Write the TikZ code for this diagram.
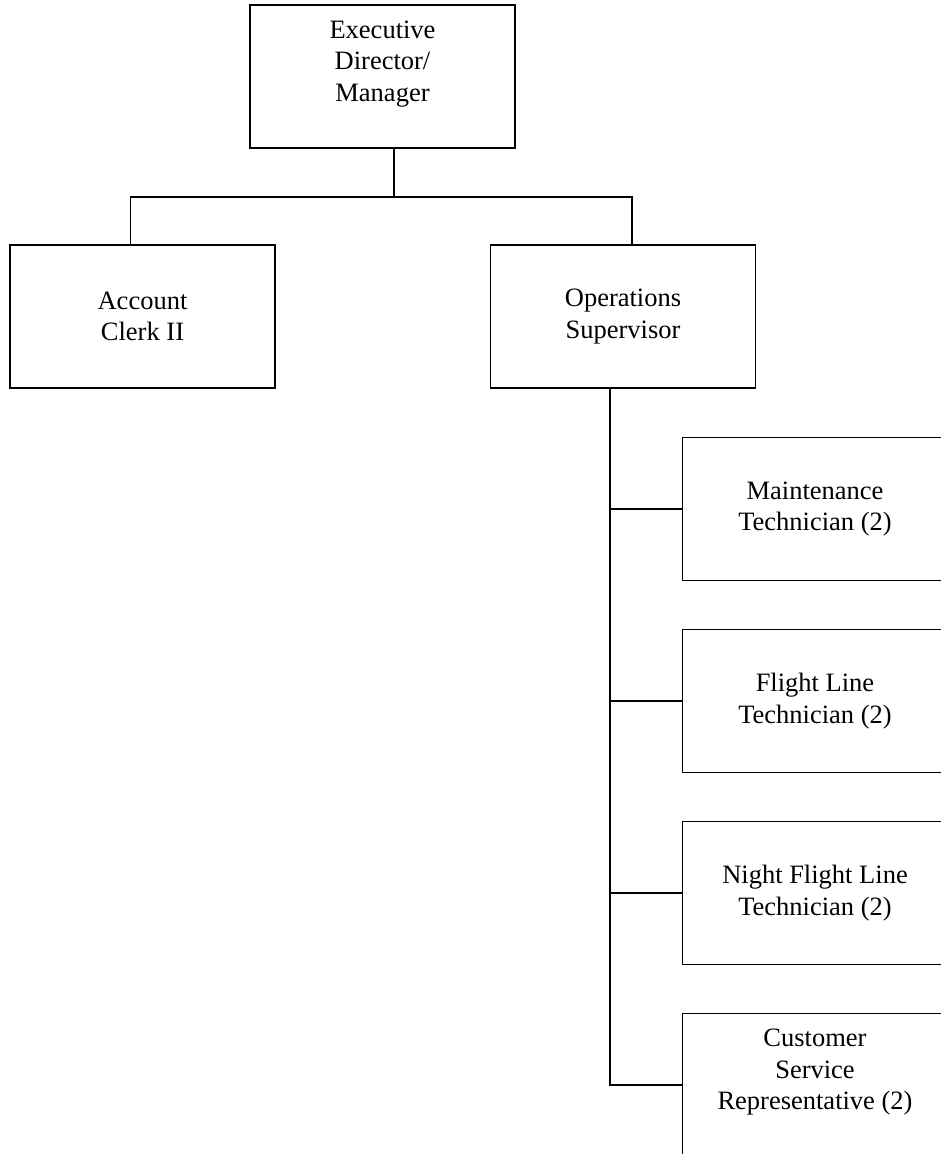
\documentclass[tikz,border=0pt]{standalone}
\usepackage{fontspec}
\setmainfont{Liberation Serif}
\usetikzlibrary{positioning}

\tikzset{
    post/.style={draw, rectangle, line width=1.8pt, minimum width=265pt,
        minimum height=143pt, align=center, font=\fontsize{26.5}{31.5}\selectfont},
    link/.style={line width=1.8pt},
}

\begin{document}
\begin{tikzpicture}[x=1pt, y=-1pt, line join=miter]
    \useasboundingbox (0,0) rectangle (941,1154);
    \clip (0,0) rectangle (941,1154);

    % top and second row
    \node[post] (exec) at (382.5,76.5) {Executive\\Director/\\Manager\\\mbox{}};
    \node[post] (acct) at (142.5,316.5) {Account\\Clerk II};
    \node[post] (ops)  at (623,316.5) {Operations\\Supervisor};

    % staff under operations
    \node[post] (maint)  at (815,509) {Maintenance\\Technician (2)};
    \node[post] (flight) at (815,701) {Flight Line\\Technician (2)};
    \node[post] (night)  at (815,893) {Night Flight Line\\Technician (2)};
    \node[post] (cust)   at (815,1085) {Customer\\Service\\Representative (2)\\\mbox{}};

    \coordinate (bus) at (394,197);
    \coordinate (acct top) at ([xshift=-12pt]acct.north);
    \coordinate (ops top) at ([xshift=9pt]ops.north);
    \coordinate (trunk) at ([xshift=-13pt]ops.south);

    \draw[link] (bus |- exec.south) -- (bus);
    \draw[link] (acct top) |- (bus) -| (ops top);
    \draw[link] (trunk) |- (cust.west);
    \foreach \n in {maint,flight,night}
        \draw[link] (trunk |- \n.west) -- (\n.west);
\end{tikzpicture}
\end{document}
